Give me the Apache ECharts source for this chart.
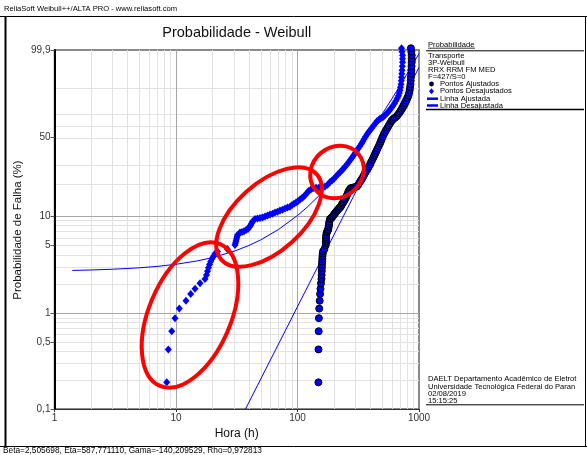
<!DOCTYPE html>
<html><head><meta charset="utf-8">
<script src="https://cdn.jsdelivr.net/npm/echarts@6/dist/echarts.min.js"></script>
<style>html,body{margin:0;padding:0;background:#fff}#c{width:587px;height:455px}</style>
</head><body><div id="c"></div>
<script>
// Weibull parameters (shown in footer)
const beta = 2.505698, eta = 587.771110, gamma = -140.209529, rho = 0.972813;

// Unadjusted failure times (h) and their plotted failure probability (%)
const tHours = [8.39, 8.64, 9.22, 9.81, 10.65, 12.08, 13.21, 14.34, 15.76, 17.33, 17.82, 18.17, 18.51, 18.87, 19.30, 19.79, 20.36, 20.94, 21.96, 26.44,
  30.59, 30.88, 31.18, 31.47, 31.78, 32.08, 33.63, 34.93, 36.27, 37.68, 39.14, 40.11, 41.04, 41.82, 42.62, 44.69, 46.86, 49.13, 51.52, 54.02,
  56.64, 59.38, 62.27, 65.28, 68.45, 71.78, 75.25, 78.90, 82.74, 86.76, 90.08, 93.59, 97.21, 100.95, 104.9, 108.89, 112.1, 115.3, 119.7,
  123.2, 128.7, 134.1, 142.0, 150.3, 159.1, 168.4, 176.6, 185.2, 192.3, 199.7, 207.5, 215.4, 223.8, 232.5, 239.1, 245.9, 255.5, 262.9,
  272.0, 280.9, 289.0, 297.4, 305.9, 314.8, 325.6, 336.3, 344.6, 352.6, 362.9, 373.3, 384.2, 395.2, 408.8, 422.2, 436.9, 451.1, 464.2,
  477.5, 494.1, 510.3, 528.0, 545.2, 561.0, 577.1, 593.8, 610.9, 628.6, 646.7, 662.9, 678.1, 688.5, 697.6, 704.2, 711.0, 715.0, 717.8,
  721.8, 724.6, 728.8, 731.5, 731.5, 731.5, 724.6, 717.8];
const failProb = [0.19, 0.42, 0.65, 0.89, 1.12, 1.35, 1.59, 1.80, 2.05, 2.27, 2.50, 2.74, 2.97, 3.20, 3.44, 3.67, 3.91, 4.13, 4.37, 4.62,
  5.07, 5.32, 5.57, 5.84, 6.12, 6.41, 6.79, 6.90, 7.03, 7.20, 7.37, 7.72, 7.99, 8.37, 8.76, 9.28, 9.39, 9.50, 9.65, 9.83,
  10.06, 10.29, 10.52, 10.77, 11.01, 11.27, 11.52, 11.79, 12.06, 12.33, 12.76, 13.19, 13.55, 13.95, 14.43, 14.92, 15.42, 15.94, 16.66,
  17.41, 17.99, 18.58, 18.70, 18.86, 19.07, 19.28, 20.04, 21.15, 21.92, 22.77, 23.85, 25.03, 26.08, 27.18, 28.14, 29.19, 30.50, 31.93,
  33.34, 34.86, 36.36, 37.98, 39.58, 41.28, 43.19, 45.16, 46.92, 48.80, 50.89, 53.01, 54.73, 56.46, 58.39, 60.42, 62.37, 64.41, 65.47,
  66.62, 67.50, 68.38, 69.87, 71.42, 72.88, 74.41, 76.08, 77.70, 79.69, 81.60, 83.44, 85.19, 86.97, 88.70, 90.40, 91.95, 93.55, 94.93,
  96.10, 97.07, 97.95, 98.62, 99.05, 99.37, 99.60, 99.75];

// Unadjusted model curve (Linha Desajustada)
const curveT = [1.4, 2, 3, 5, 7, 10, 15, 20, 30, 40, 50, 70, 100, 120, 150, 200, 250, 300, 350, 400, 450, 500, 600, 700, 800, 900, 1000];
const curveF = [2.787, 2.817, 2.866, 2.966, 3.068, 3.224, 3.495, 3.778, 4.384, 5.039, 5.748, 7.323, 10.08, 12.17, 15.69, 22.44, 30.11, 38.40, 46.98, 55.49, 63.59, 71.02, 83.17, 91.35, 96.10, 98.47, 99.48];
// Adjusted straight line (Linha Ajustada)
const fitT = [37.34, 1000];
const fitF = [0.1, 97.73];

// Axis ticks / grid
const yTickValues = [0.1, 0.5, 1, 5, 10, 50];
const yTickLabels = ['0,1', '0,5', '1', '5', '10', '50', '99,9'];
const yAxisTopF = 99.68;
const yGridMinor = [0.2, 0.3, 0.4, 0.5, 0.6, 0.7, 0.8, 0.9, 2, 3, 4, 5, 6, 7, 8, 9, 20, 30, 50, 60, 70, 90];
const yGridMajor = [1, 10];
const xGridMinor = [2, 3, 4, 5, 6, 7, 8, 9, 20, 30, 40, 50, 60, 70, 80, 90, 200, 300, 400, 500, 600, 700, 800, 900];
const xGridMajor = [10, 100];

const FONT = 'Liberation Sans, Arial, sans-serif';
function W(fPct) { const f = fPct / 100; return Math.log(-Math.log(1 - f)); }
const yMin = W(0.1);
const yMax = W(yAxisTopF);
const yLabelVals = yTickValues.map(W).concat([yMax]);

const unadjData = tHours.map((t, i) => [t, W(failProb[i])]);
const adjData = tHours.map((t, i) => [t - gamma, W(failProb[i])]);
const curveData = curveT.map((t, i) => [t, W(curveF[i])]);
const fitData = fitT.map((t, i) => [t, W(fitF[i])]);

const minorStyle = { color: '#e2e2e2', width: 1, type: 'solid' };
const majorStyle = { color: '#a6a6a6', width: 1, type: 'solid' };
const gridLines = [
  ...yGridMinor.map(v => ({ yAxis: W(v), lineStyle: minorStyle })),
  ...xGridMinor.map(v => ({ xAxis: v, lineStyle: minorStyle })),
  ...yGridMajor.map(v => ({ yAxis: W(v), lineStyle: majorStyle })),
  ...xGridMajor.map(v => ({ xAxis: v, lineStyle: majorStyle }))
];

const chart = echarts.init(document.getElementById('c'), null, { renderer: 'canvas' });
const option = {
  animation: false,
  backgroundColor: '#fff',
  grid: { left: 54.5, top: 50, width: 364.5, height: 359, show: true, borderColor: '#666', borderWidth: 1.5, backgroundColor: 'transparent', z: 0 },
  xAxis: {
    type: 'log', logBase: 10, min: 1, max: 1000,
    axisLine: { show: true, onZero: false, lineStyle: { color: '#333', width: 1 } },
    axisTick: { show: true, length: 3, lineStyle: { color: '#333' } },
    axisLabel: { color: '#333', fontSize: 10, fontFamily: FONT, margin: 4, formatter: v => String(Math.round(v)) },
    splitLine: { show: false }
  },
  yAxis: {
    type: 'value', min: yMin, max: yMax,
    axisLine: { show: true, onZero: false, lineStyle: { color: '#000', width: 2 } },
    axisTick: { show: true, customValues: yLabelVals, length: 4, lineStyle: { color: '#555' } },
    axisLabel: {
      customValues: yLabelVals, color: '#333', fontSize: 10, fontFamily: FONT, margin: 4,
      formatter: function (v) {
        let best = 0, d = Infinity;
        yLabelVals.forEach((c, i) => { if (Math.abs(c - v) < d) { d = Math.abs(c - v); best = i; } });
        return yTickLabels[best];
      }
    },
    splitLine: { show: false }
  },
  series: [
    { type: 'scatter', data: [[10, W(1)]], symbolSize: 0, silent: true, z: 0,
      markLine: { z: 0, silent: true, symbol: ['none', 'none'], label: { show: false }, animation: false, data: gridLines } },
    { name: 'Linha Desajustada', type: 'line', data: curveData, showSymbol: false, symbol: 'none',
      lineStyle: { color: '#0000ff', width: 1, type: 'solid' }, z: 6, silent: true },
    { name: 'Linha Ajustada', type: 'line', data: fitData, showSymbol: false, symbol: 'none',
      lineStyle: { color: '#0000ff', width: 1, type: 'solid' }, z: 6, silent: true },
    { name: 'Pontos Ajustados', type: 'scatter', data: adjData, symbol: 'circle', symbolSize: 7, clip: false,
      itemStyle: { color: '#0000ff', borderColor: '#000', borderWidth: 1, opacity: 1 }, z: 7 },
    { name: 'Pontos Desajustados', type: 'scatter', data: unadjData, symbol: 'diamond', symbolSize: [7, 8], clip: false,
      itemStyle: { color: '#0000ff', opacity: 1 }, z: 8 }
  ]
};
chart.setOption(option);

// Red hand-drawn ellipses, anchored in data space
const ellipses = [
  { t: 13.04, f: 0.96, rx: 41, ry: 77, rot: -23 },
  { t: 58.3, f: 9.74, rx: 64, ry: 34, rot: 42 },
  { t: 211.4, f: 26.15, rx: 28, ry: 25, rot: 40 }
];

function txt(x, y, s, size, extra) {
  return Object.assign({ type: 'text', x: x, y: y, silent: true,
    style: { text: s, fontSize: size, fontFamily: FONT, fill: '#000', textAlign: 'left', textVerticalAlign: 'middle' } }, extra || {});
}
function hline(x1, x2, y, w, c) {
  return { type: 'line', silent: true, shape: { x1: x1, y1: y, x2: x2, y2: y }, style: { stroke: c || '#000', lineWidth: w || 1 } };
}
const footer = 'Beta=' + beta.toFixed(6).replace('.', ',') + ', Eta=' + eta.toFixed(6).replace('.', ',') +
  ', Gama=' + gamma.toFixed(6).replace('.', ',') + ', Rho=' + rho.toFixed(6).replace('.', ',');

const g = [];
// frame
g.push(txt(4, 9, 'ReliaSoft Weibull++/ALTA PRO - www.reliasoft.com', 7.6));
g.push(hline(0, 587, 16.5, 1, '#000'));
g.push({ type: 'rect', silent: true, shape: { x: 4.5, y: 17, width: 2, height: 429 }, style: { fill: '#000' } });
g.push({ type: 'line', silent: true, shape: { x1: 585.5, y1: 17, x2: 585.5, y2: 446 }, style: { stroke: '#000', lineWidth: 1 } });
g.push(hline(0, 587, 446.5, 1, '#000'));
g.push(txt(3, 451, footer, 8.3));
// titles
g.push({ type: 'text', silent: true, x: 236.7, y: 33, style: { text: 'Probabilidade - Weibull', fontSize: 14.5, fontFamily: FONT, fill: '#111', textAlign: 'center', textVerticalAlign: 'middle' } });
g.push({ type: 'text', silent: true, x: 236.7, y: 434, style: { text: 'Hora (h)', fontSize: 12, fontFamily: FONT, fill: '#111', textAlign: 'center', textVerticalAlign: 'middle' } });
g.push({ type: 'text', silent: true, x: 18, y: 230, rotation: Math.PI / 2, style: { text: 'Probabilidade de Falha (%)', fontSize: 11.5, fontFamily: FONT, fill: '#111', textAlign: 'center', textVerticalAlign: 'middle' } });
// legend panel
g.push(txt(428, 44.5, 'Probabilidade', 7.6));
g.push(hline(428, 475, 48.2, 0.8, '#000'));
g.push(hline(426, 584, 50.8, 1, '#000'));
g.push(txt(428, 55.5, 'Transporte', 7.6));
g.push(txt(428, 62.6, '3P-Weibull', 7.6));
g.push(txt(428, 69.6, 'RRX RRM FM MED', 7.6));
g.push(txt(428, 76.8, 'F=427/S=0', 7.6));
g.push({ type: 'circle', silent: true, shape: { cx: 431.5, cy: 84, r: 2.4 }, style: { fill: '#000050' } });
g.push(txt(440, 84, 'Pontos Ajustados', 7.6));
g.push({ type: 'polygon', silent: true, shape: { points: [[431.5, 88.3], [434, 91.3], [431.5, 94.3], [429, 91.3]] }, style: { fill: '#0000ff' } });
g.push(txt(440, 91.3, 'Pontos Desajustados', 7.6));
g.push(hline(427, 438, 98.7, 2.5, '#0000ff'));
g.push(txt(440, 98.7, 'Linha Ajustada', 7.6));
g.push(hline(427, 438, 105.5, 2.5, '#0000ff'));
g.push(txt(440, 105.5, 'Linha Desajustada', 7.6));
g.push(hline(426, 584, 109.6, 1.5, '#000'));
// bottom-right info block
g.push(txt(428, 379, 'DAELT Departamento Acadêmico de Eletrot', 7.6));
g.push(txt(428, 386.7, 'Universidade Tecnológica Federal do Paran', 7.6));
g.push(txt(428, 394, '02/08/2019', 7.6));
g.push(txt(428, 401, '15:15:25', 7.6));
g.push(hline(426, 584, 404.8, 1, '#000'));
// ellipses
ellipses.forEach(e => {
  const p = chart.convertToPixel({ gridIndex: 0 }, [e.t, W(e.f)]);
  g.push({ type: 'ellipse', silent: true, z: 100, x: p[0], y: p[1], rotation: e.rot * Math.PI / 180,
    shape: { cx: 0, cy: 0, rx: e.rx, ry: e.ry }, style: { fill: 'none', stroke: '#ff0000', lineWidth: 4 } });
});
chart.setOption({ graphic: { elements: g } });
</script>
</body></html>
